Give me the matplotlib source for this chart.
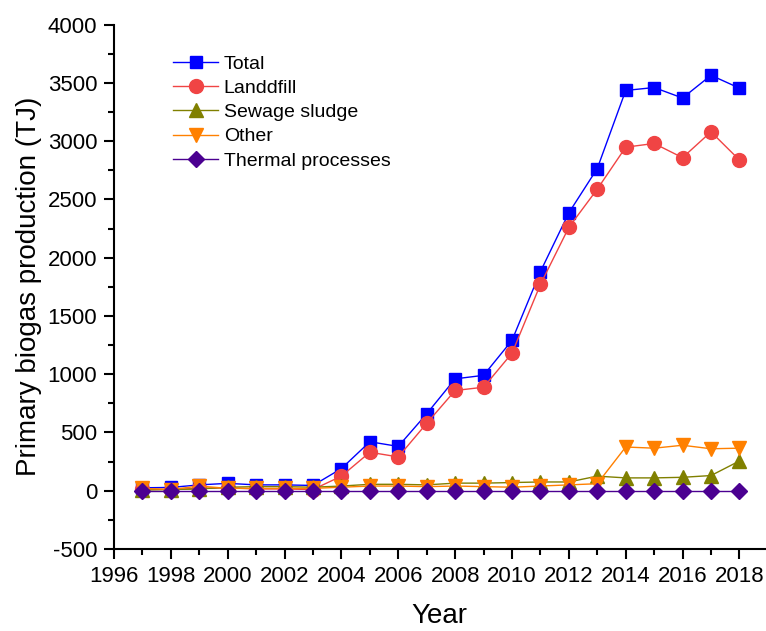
import matplotlib.pyplot as plt
from matplotlib.ticker import MultipleLocator

# Data
years = list(range(1997, 2019))
total = [25, 28, 50, 63, 50, 50, 45, 190, 420, 380, 660, 960, 990, 1290,
         1880, 2385, 2765, 3435, 3460, 3370, 3565, 3455]
landfill = [15, 10, 20, 25, 15, 15, 10, 125, 330, 290, 578, 860, 888, 1180,
            1770, 2260, 2588, 2948, 2980, 2858, 3080, 2838]
sewage = [5, 10, 15, 30, 35, 35, 30, 40, 55, 55, 50, 65, 65, 70,
          75, 75, 125, 110, 110, 115, 130, 255]
other = [20, 10, 40, 20, 20, 20, 20, 30, 40, 40, 35, 40, 35, 30,
         40, 50, 60, 375, 365, 390, 360, 365]
thermal = [0] * 22

plt.rcParams['font.family'] = ['Liberation Sans', 'DejaVu Sans']
plt.rcParams['axes.unicode_minus'] = False

fig = plt.figure(figsize=(7.66, 6.31), dpi=100)
ax = fig.add_axes([0.1488, 0.130, 0.8499, 0.831])

ax.plot(years, total, marker='s', ms=9, color='#0000FF', lw=1, label='Total')
ax.plot(years, landfill, marker='o', ms=10, color='#F04444', lw=1, label='Landdfill')
ax.plot(years, sewage, marker='^', ms=10, color='#808000', lw=1, label='Sewage sludge')
ax.plot(years, other, marker='v', ms=10, color='#FF8000', lw=1, label='Other')
ax.plot(years, thermal, marker='D', ms=8, color='#4B0091', lw=1, label='Thermal processes')

ax.set_xlim(1996, 2018.9)
ax.set_ylim(-500, 4000)
ax.xaxis.set_major_locator(MultipleLocator(2))
ax.xaxis.set_minor_locator(MultipleLocator(1))
ax.yaxis.set_major_locator(MultipleLocator(500))
ax.yaxis.set_minor_locator(MultipleLocator(250))

for side in ['top', 'right']:
    ax.spines[side].set_visible(False)
for side in ['left', 'bottom']:
    ax.spines[side].set_linewidth(1.5)

ax.tick_params(which='major', direction='out', length=7, width=1.5, labelsize=16, pad=5)
ax.tick_params(which='minor', direction='out', length=4, width=1.5)

ax.set_xlabel('Year', fontsize=20, labelpad=12)
ax.set_ylabel('Primary biogas production (TJ)', fontsize=20, labelpad=4)

ax.legend(loc='upper left', bbox_to_anchor=(0.064, 0.975), frameon=False, fontsize=14,
          handlelength=2.3, handletextpad=0.3, labelspacing=0.34)

plt.savefig('out.png', dpi=100)
